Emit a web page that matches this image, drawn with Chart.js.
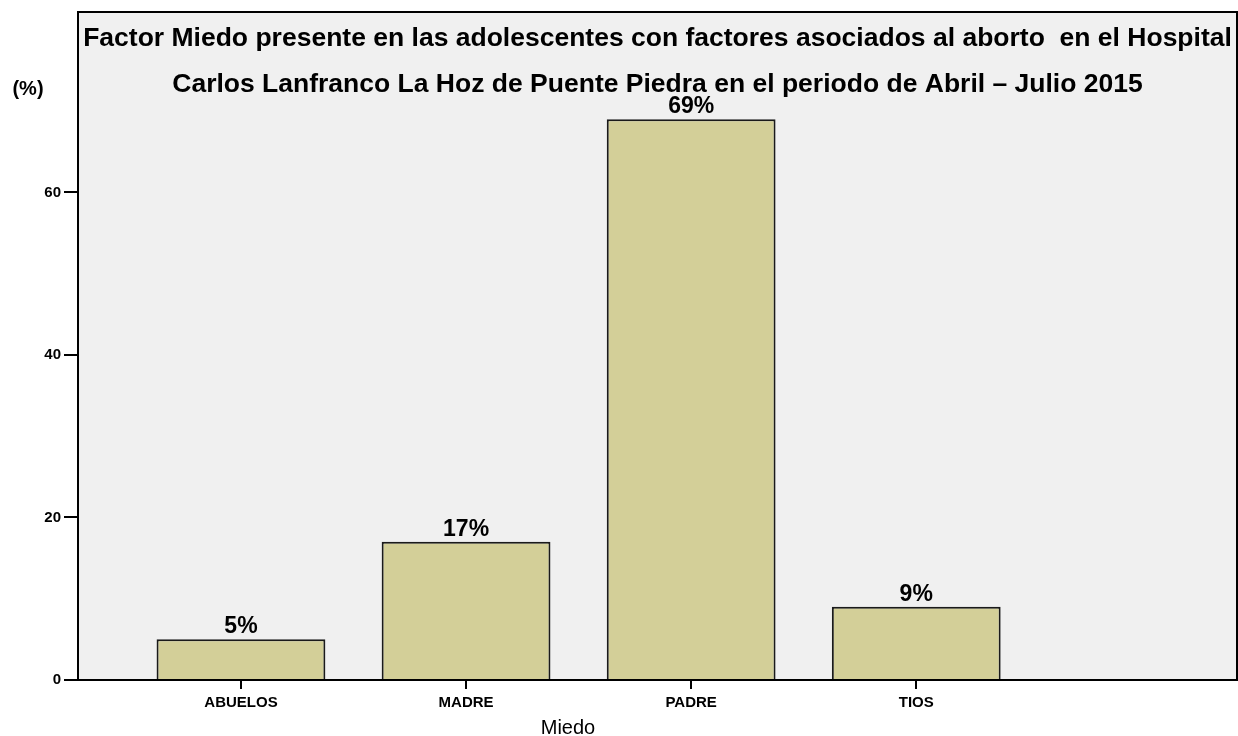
<!DOCTYPE html>
<html>
<head>
<meta charset="utf-8">
<script src="https://cdn.jsdelivr.net/npm/chart.js@4"></script>
<style>
  html, body { margin: 0; padding: 0; background: #fff; }
  #wrap { width: 1238px; height: 736px; }
</style>
</head>
<body>
<div id="wrap"><canvas id="miedoChart" width="1238" height="736"></canvas></div>
<script>
// Miedo: who the adolescents were afraid of
const categories = ['ABUELOS', 'MADRE', 'PADRE', 'TIOS'];
const percents = [5, 17, 69, 9];
const yTicks = [0, 20, 40, 60];
const titleLines = [
    'Factor Miedo presente en las adolescentes con factores asociados al aborto  en el Hospital',
    'Carlos Lanfranco La Hoz de Puente Piedra en el periodo de Abril \u2013 Julio 2015'
];

const FONT = '"Liberation Sans", Arial, sans-serif';
const BAR_FILL = '#d3cf98';
const PLOT_BG = '#f0f0f0';

// background + frame + texts drawn around the plot
const framePlugin = {
    id: 'frame',
    beforeDraw(chart) {
        const { ctx, chartArea: a } = chart;
        ctx.save();
        ctx.fillStyle = PLOT_BG;
        ctx.fillRect(a.left, a.top, a.right - a.left, a.bottom - a.top);
        ctx.restore();
    },
    afterDraw(chart) {
        const { ctx, chartArea: a } = chart;
        ctx.save();
        ctx.strokeStyle = '#000';
        ctx.lineWidth = 2;
        ctx.strokeRect(a.left, a.top, a.right - a.left, a.bottom - a.top);

        ctx.fillStyle = '#000';
        ctx.textAlign = 'center';
        ctx.textBaseline = 'alphabetic';
        ctx.font = 'bold 26.5px ' + FONT;
        const cx = (a.left + a.right) / 2;
        ctx.fillText(titleLines[0], cx, 46);
        ctx.fillText(titleLines[1], cx, 92);

        ctx.font = 'bold 20px ' + FONT;
        ctx.fillText('(%)', 28, 95);

        ctx.font = '20px ' + FONT;
        ctx.fillText('Miedo', 568, 734);

        // percentage labels above the bars
        ctx.font = 'bold 23px ' + FONT;
        chart.getDatasetMeta(0).data.forEach((bar, i) => {
            ctx.fillText(percents[i] + '%', bar.x, bar.y - 6);
        });
        ctx.restore();
    }
};

new Chart(document.getElementById('miedoChart').getContext('2d'), {
    type: 'bar',
    data: {
        datasets: [{
            label: 'Miedo',
            data: percents.map((v, i) => ({ x: i + 1, y: v })),
            backgroundColor: BAR_FILL,
            borderColor: '#1a1a1a',
            borderWidth: 2,
            borderSkipped: 'bottom',
            categoryPercentage: 1,
            barPercentage: 0.75
        }]
    },
    options: {
        responsive: false,
        animation: false,
        layout: { padding: { top: 9, right: 1, left: 0, bottom: 0 } },
        plugins: {
            legend: { display: false },
            tooltip: { enabled: false }
        },
        scales: {
            x: {
                type: 'linear',
                offset: false,
                min: 0.276,
                max: 5.425,
                afterBuildTicks: axis => { axis.ticks = categories.map((c, i) => ({ value: i + 1 })); },
                afterFit: axis => { axis.height = 56; },
                ticks: {
                    callback: v => categories[v - 1] || '',
                    color: '#000',
                    font: { family: FONT, size: 15, weight: 'bold' },
                    padding: 5,
                    maxRotation: 0
                },
                grid: {
                    offset: false,
                    drawOnChartArea: false,
                    drawTicks: true,
                    tickLength: 9,
                    color: '#000',
                    lineWidth: 2
                },
                border: { display: true, color: '#000', width: 2 }
            },
            y: {
                min: 0,
                max: 82.2,
                afterBuildTicks: axis => { axis.ticks = yTicks.map(v => ({ value: v })); },
                afterFit: axis => { axis.width = 78; },
                ticks: {
                    color: '#000',
                    font: { family: FONT, size: 15, weight: 'bold' },
                    padding: 3
                },
                grid: {
                    drawOnChartArea: false,
                    drawTicks: true,
                    tickLength: 14,
                    color: '#000',
                    lineWidth: 2
                },
                border: { display: true, color: '#000', width: 2 }
            }
        }
    },
    plugins: [framePlugin]
});
</script>
</body>
</html>
